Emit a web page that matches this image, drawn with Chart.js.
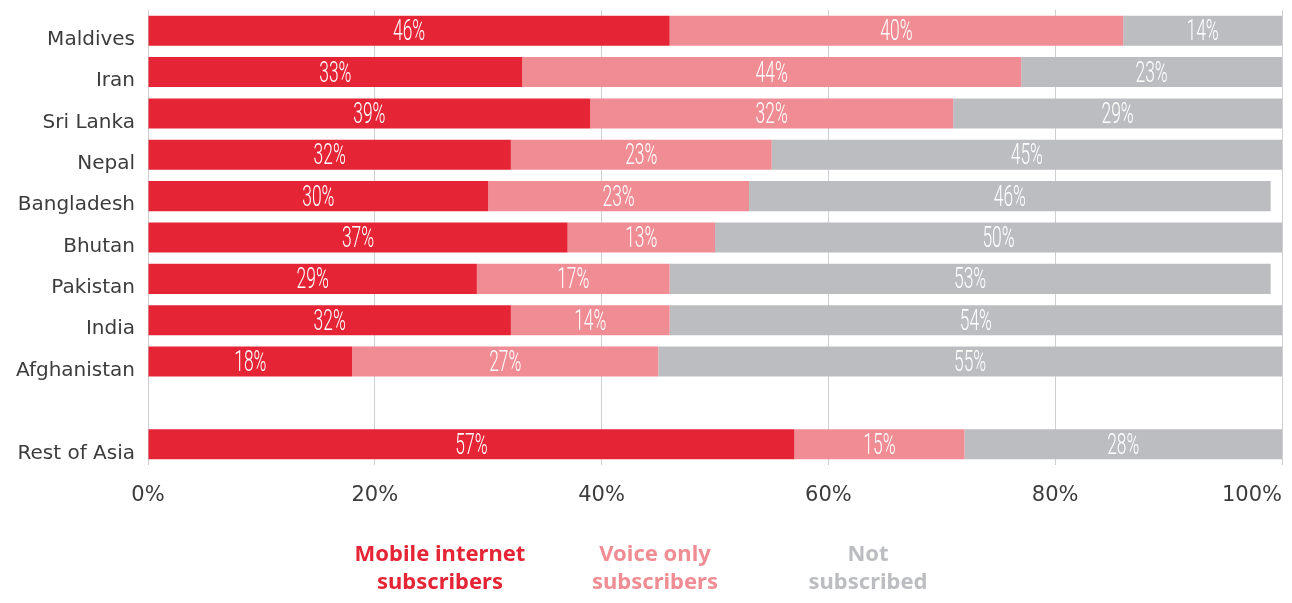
<!DOCTYPE html>
<html>
<head>
<meta charset="utf-8">
<script src="https://cdn.jsdelivr.net/npm/chart.js@4/dist/chart.umd.min.js"></script>
<style>
  body { margin: 0; background: #fff; }
  #wrap { position: relative; width: 1292px; height: 603px; }
  .key {
    position: absolute; top: 538px; transform: translateX(-50%);
    font-family: "Noto Sans", sans-serif; font-weight: 700; font-size: 22px;
    line-height: 28px; text-align: center; white-space: nowrap;
  }
</style>
</head>
<body>
<div id="wrap">
  <canvas id="shareChart"></canvas>
  <div class="key" style="left:440px;color:#e52535">Mobile internet<br>subscribers</div>
  <div class="key" style="left:655px;color:#f08c93">Voice only<br>subscribers</div>
  <div class="key" style="left:868px;color:#bcbdc0">Not<br>subscribed</div>
</div>
<script>
// one empty slot keeps the gap above "Rest of Asia"
const countries = ["Maldives", "Iran", "Sri Lanka", "Nepal", "Bangladesh", "Bhutan",
  "Pakistan", "India", "Afghanistan", "", "Rest of Asia"];
const mobileInternet = [46, 33, 39, 32, 30, 37, 29, 32, 18, null, 57];
const voiceOnly = [40, 44, 32, 23, 23, 13, 17, 14, 27, null, 15];
const notSubscribed = [14, 23, 29, 45, 46, 50, 53, 54, 55, null, 28];
const xTicks = [0, 20, 40, 60, 80, 100];

const RED = "#e52535", PINK = "#f08c93", GREY = "#bcbdc0";
const TEXT = "#3c3c3c";

// white condensed percentage inside each segment
const segmentLabels = {
  id: "segmentLabels",
  afterDatasetsDraw(chart) {
    const { ctx } = chart;
    ctx.save();
    ctx.fillStyle = "#fff";
    ctx.font = "300 30px Roboto";
    ctx.textAlign = "center";
    ctx.textBaseline = "middle";
    chart.data.datasets.forEach((ds, i) => {
      chart.getDatasetMeta(i).data.forEach((bar, j) => {
        const v = ds.data[j];
        if (v == null) return;
        ctx.save();
        ctx.translate((bar.x + bar.base) / 2, bar.y + 2);
        ctx.scale(0.58, 1);
        ctx.fillText(v + "%", 0, 0);
        ctx.restore();
      });
    });
    ctx.restore();
  }
};

// x tick labels, the last one kept inside the plot's right edge
const xLabels = {
  id: "xLabels",
  afterDraw(chart) {
    const { ctx, chartArea } = chart;
    const x = chart.scales.x;
    ctx.save();
    ctx.fillStyle = TEXT;
    ctx.font = "21px 'DejaVu Sans'";
    ctx.textBaseline = "middle";
    xTicks.forEach((v) => {
      const text = v + "%";
      const w = ctx.measureText(text).width;
      const px = Math.min(x.getPixelForValue(v) - w / 2, chartArea.right - w);
      ctx.fillText(text, px, chartArea.bottom + 31);
    });
    ctx.restore();
  }
};

new Chart(document.getElementById("shareChart"), {
  type: "bar",
  data: {
    labels: countries,
    datasets: [
      { label: "Mobile internet subscribers", data: mobileInternet, backgroundColor: RED },
      { label: "Voice only subscribers", data: voiceOnly, backgroundColor: PINK },
      { label: "Not subscribed", data: notSubscribed, backgroundColor: GREY }
    ]
  },
  options: {
    indexAxis: "y",
    responsive: true,
    maintainAspectRatio: false,
    animation: false,
    layout: { padding: { top: 10, right: 10, bottom: 0, left: 0 } },
    datasets: { bar: { categoryPercentage: 0.726, barPercentage: 1, borderWidth: 0 } },
    plugins: { legend: { display: false }, tooltip: { enabled: false } },
    scales: {
      x: {
        stacked: true,
        min: 0,
        max: 100,
        afterBuildTicks: (s) => { s.ticks = xTicks.map(v => ({ value: v })); },
        afterFit: (s) => { s.height = 138; s.paddingLeft = 0; s.paddingRight = 0; },
        grid: { color: "#cfcfcf", lineWidth: 1, drawTicks: false },
        border: { display: false },
        ticks: { display: false }
      },
      y: {
        stacked: true,
        afterFit: (s) => { s.width = 148; s.paddingTop = 0; s.paddingBottom = 0; },
        grid: { display: false, drawTicks: false },
        border: { display: false },
        ticks: {
          padding: 13,
          labelOffset: 9,
          color: TEXT,
          font: { family: "DejaVu Sans", size: 20 }
        }
      }
    }
  },
  plugins: [segmentLabels, xLabels]
});
</script>
</body>
</html>
